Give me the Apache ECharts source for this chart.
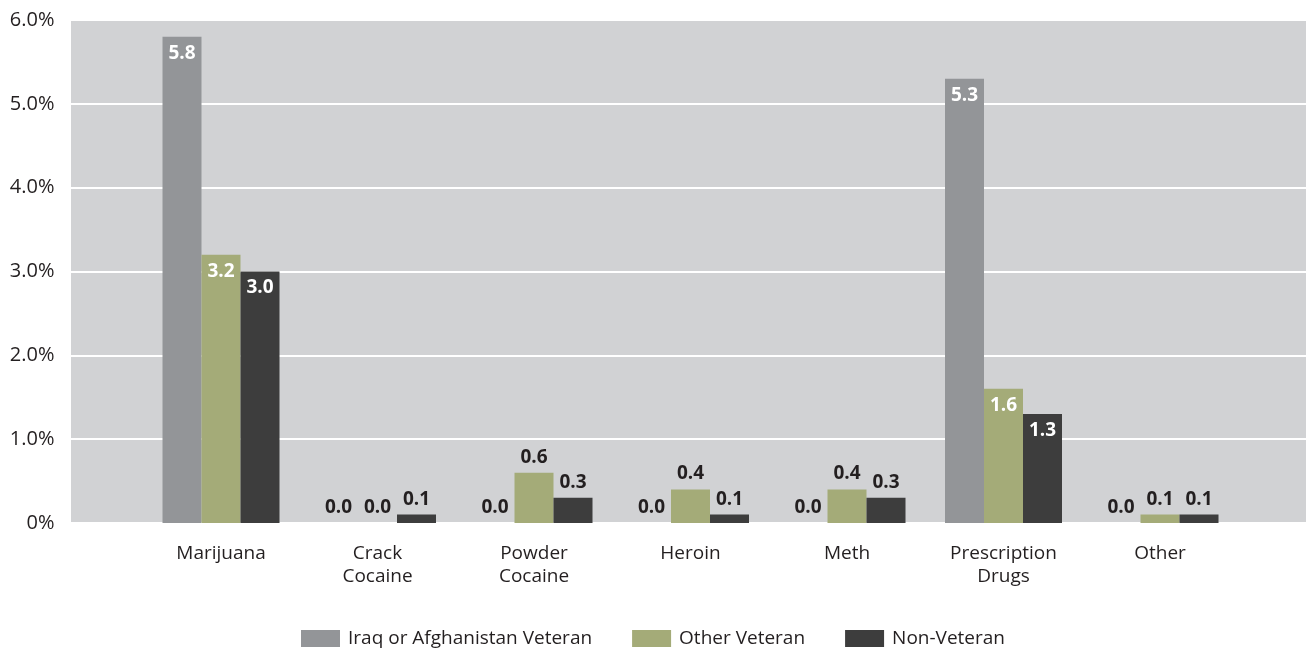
<!DOCTYPE html>
<html>
<head>
<meta charset="utf-8">
<script src="https://cdn.jsdelivr.net/npm/echarts@6/dist/echarts.min.js"></script>
<style>
html,body{margin:0;padding:0;background:#fff;}
#chart{width:1306px;height:649px;}
</style>
</head>
<body>
<div id="chart"></div>
<script>
const categories = ['Marijuana', 'Crack\nCocaine', 'Powder\nCocaine', 'Heroin', 'Meth', 'Prescription\nDrugs', 'Other'];
const seriesNames = ['Iraq or Afghanistan Veteran', 'Other Veteran', 'Non-Veteran'];
const iraqAfghan = [5.8, 0.0, 0.0, 0.0, 0.0, 5.3, 0.0];
const otherVeteran = [3.2, 0.0, 0.6, 0.4, 0.4, 1.6, 0.1];
const nonVeteran = [3.0, 0.1, 0.3, 0.1, 0.3, 1.3, 0.1];
const yTickLabels = ['0%', '1.0%', '2.0%', '3.0%', '4.0%', '5.0%', '6.0%'];

const FONT = "'Open Sans', 'Noto Sans', sans-serif";
const colors = ['#939598', '#a4ab78', '#3d3d3d'];

function toData(arr) {
  const d = arr.map(v => ({
    value: v,
    label: v >= 1
      ? { position: 'insideTop', color: '#ffffff', distance: 7 }
      : { position: 'top', color: '#231f20', distance: 6 }
  }));
  return [null, ...d, null];
}

const chart = echarts.init(document.getElementById('chart'), null, { renderer: 'canvas' });
const seriesData = [iraqAfghan, otherVeteran, nonVeteran];

chart.setOption({
  animation: false,
  textStyle: { fontFamily: FONT },
  graphic: [{
    type: 'rect', z: -10, silent: true,
    shape: { x: 71, y: 20, width: 1235, height: 503 },
    style: { fill: '#d1d2d4' }
  }],
  grid: { left: 64.5, top: 20, width: 1252, height: 503, containLabel: false, outerBoundsMode: 'none' },
  legend: {
    top: 624, left: 'center',
    itemWidth: 39, itemHeight: 17, itemGap: 40,
    icon: 'rect',
    textStyle: { fontFamily: FONT, fontSize: 19, color: '#231f20', padding: [0, 0, 0, 3] },
    data: seriesNames
  },
  xAxis: {
    type: 'category',
    data: ['', ...categories, ''],
    boundaryGap: false,
    axisLine: { show: false },
    axisTick: { show: false },
    splitLine: { show: false },
    axisLabel: { interval: 0, margin: 19, fontSize: 19, color: '#231f20', lineHeight: 23, fontFamily: FONT }
  },
  yAxis: {
    type: 'value', min: 0, max: 6, interval: 1,
    axisLine: { show: false }, axisTick: { show: false },
    splitLine: { show: true, lineStyle: { color: '#ffffff', width: 2 } },
    axisLabel: { margin: 10, fontSize: 20, color: '#231f20', fontFamily: FONT,
      formatter: v => yTickLabels[Math.round(v)] }
  },
  series: seriesData.map((arr, i) => ({
    name: seriesNames[i],
    type: 'bar',
    barWidth: 39,
    barGap: '0%',
    itemStyle: { color: colors[i] },
    label: { show: true, fontSize: 19, fontWeight: 'bold', fontFamily: FONT, formatter: p => p.value.toFixed(1) },
    data: toData(arr)
  }))
});
</script>
</body>
</html>
